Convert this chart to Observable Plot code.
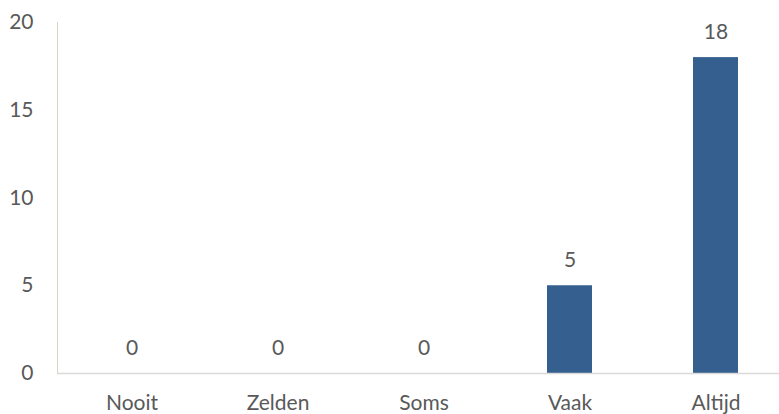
<!DOCTYPE html>
<html><head><meta charset="utf-8">
<script src="https://cdn.jsdelivr.net/npm/d3@7"></script>
<script src="https://cdn.jsdelivr.net/npm/@observablehq/plot@0.6"></script>
<style>
html,body{margin:0;padding:0;background:#fff;}
#chart svg{display:block;overflow:visible;}
</style></head>
<body><div id="chart"></div>
<script>
const categories = ["Nooit", "Zelden", "Soms", "Vaak", "Altijd"];
const values = [0, 0, 0, 5, 18];
const yTicks = [0, 5, 10, 15, 20];
const data = categories.map((c, i) => ({cat: c, val: values[i]}));

const chart = Plot.plot({
  width: 779, height: 414,
  marginLeft: 57, marginRight: -11, marginTop: 22, marginBottom: 41,
  style: {fontFamily: "Lato, 'Open Sans', sans-serif", fontSize: "21px", color: "#595959", background: "#fff"},
  x: {domain: categories, paddingInner: 0.69, paddingOuter: 0.345, label: null},
  y: {domain: [0, 20], label: null},
  marks: [
    Plot.frame({anchor: "left", stroke: "#d9d5c3"}),
    Plot.axisY({ticks: yTicks, tickSize: 0, tickPadding: 24, fill: "#595959", label: null}),
    Plot.axisX({tickSize: 0, tickPadding: 22, fill: "#595959", label: null}),
    Plot.barY(data, {x: "cat", y: "val", fill: "#355f8f"}),
    Plot.ruleY([0], {stroke: "#d9d9d9", strokeWidth: 1.5}),
    Plot.text(data, {x: "cat", y: "val", text: d => String(d.val), dy: -25, fill: "#595959", fontSize: 21})
  ]
});
document.getElementById("chart").appendChild(chart);
</script></body></html>
